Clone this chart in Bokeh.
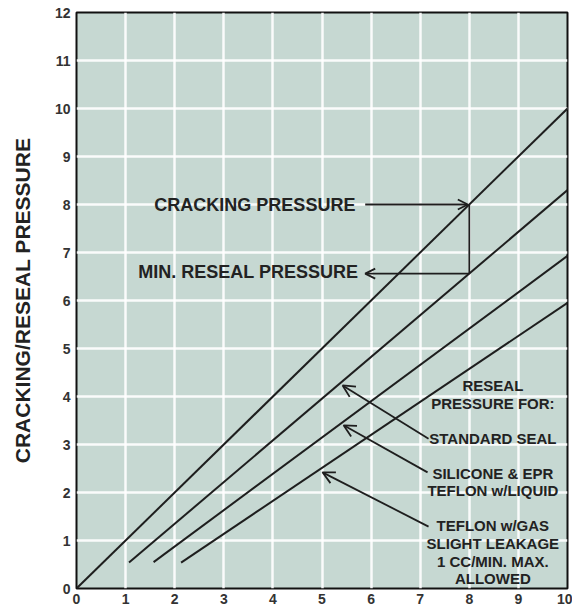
from bokeh.plotting import figure
from bokeh.models import Arrow, OpenHead, Label, Range1d, FixedTicker
from bokeh.embed import file_html
from bokeh.resources import INLINE

# ---- data ----
cracking_x = [0, 10]
cracking_y = [0, 10]
standard_x = [1.07, 10]
standard_y = [0.54, 8.3]
silicone_x = [1.57, 10]
silicone_y = [0.55, 6.93]
teflon_x = [2.13, 10]
teflon_y = [0.54, 5.95]

x_ticks = list(range(0, 11))
y_ticks = list(range(0, 13))

# example point: cracking 8 -> reseal 6.56
example_crack = (8.0, 8.0)
example_reseal = (8.0, 6.56)

FONT = "Liberation Sans"
INK = "#1e1e1e"

p = figure(width=572, height=610, output_backend="svg", toolbar_location=None,
           x_range=Range1d(0, 10), y_range=Range1d(0, 12),
           min_border_left=76, min_border_right=5, min_border_top=12, min_border_bottom=22)
p.background_fill_color = "#c6d8d2"
p.border_fill_color = "white"
p.outline_line_color = "#111111"
p.outline_line_width = 2

for ax in (p.xaxis[0], p.yaxis[0]):
    ax.axis_line_color = None
    ax.major_tick_line_color = None
    ax.minor_tick_line_color = None
    ax.major_tick_out = 0
    ax.major_tick_in = 0
    ax.minor_tick_out = 0
    ax.minor_tick_in = 0
    ax.major_label_text_font = FONT
    ax.major_label_text_font_style = "bold"
    ax.major_label_text_font_size = "14px"
    ax.major_label_text_color = "#333333"
p.xaxis.ticker = FixedTicker(ticks=x_ticks)
p.yaxis.ticker = FixedTicker(ticks=y_ticks)
p.xaxis.major_label_standoff = 5
p.yaxis.major_label_standoff = 6
p.yaxis.axis_label = "CRACKING/RESEAL PRESSURE"
p.yaxis.axis_label_text_font = FONT
p.yaxis.axis_label_text_font_style = "bold"
p.yaxis.axis_label_text_font_size = "21px"
p.yaxis.axis_label_text_color = "#222222"
p.yaxis.axis_label_standoff = 18

p.xgrid.ticker = FixedTicker(ticks=x_ticks)
p.ygrid.ticker = FixedTicker(ticks=y_ticks)
for g in (p.xgrid[0], p.ygrid[0]):
    g.grid_line_color = "white"
    g.grid_line_width = 2.5
    g.grid_line_alpha = 0.9

for xs, ys in ((cracking_x, cracking_y), (standard_x, standard_y),
               (silicone_x, silicone_y), (teflon_x, teflon_y)):
    p.line(xs, ys, line_color=INK, line_width=2)

# cracking / reseal example
p.add_layout(Arrow(end=OpenHead(size=10, line_color=INK, line_width=1.8),
                   x_start=5.88, y_start=example_crack[1],
                   x_end=example_crack[0] - 0.03, y_end=example_crack[1],
                   line_color=INK, line_width=1.8))
p.segment(x0=[example_crack[0]], y0=[example_crack[1]],
          x1=[example_reseal[0]], y1=[example_reseal[1]], line_color=INK, line_width=1.8)
p.add_layout(Arrow(end=OpenHead(size=10, line_color=INK, line_width=1.8),
                   x_start=example_reseal[0], y_start=example_reseal[1],
                   x_end=5.88, y_end=example_reseal[1],
                   line_color=INK, line_width=1.8))

def lab(x, y, t, size, align="center"):
    p.add_layout(Label(x=x, y=y, text=t, text_font=FONT, text_font_style="bold",
                       text_font_size=size, text_color="#222222",
                       text_align=align, text_baseline="middle"))

lab(5.68, 8.0, "CRACKING PRESSURE", "18px", "right")
lab(5.74, 6.6, "MIN. RESEAL PRESSURE", "18px", "right")

right_x = 8.48
right_labels = [(4.23, "RESEAL"), (3.85, "PRESSURE FOR:"), (3.12, "STANDARD SEAL"),
                (2.40, "SILICONE & EPR"), (2.04, "TEFLON w/LIQUID"),
                (1.31, "TEFLON w/GAS"), (0.94, "SLIGHT LEAKAGE"),
                (0.57, "1 CC/MIN. MAX."), (0.21, "ALLOWED")]
for yy, t in right_labels:
    lab(right_x, yy, t, "15px")

pointer_arrows = [((7.17, 3.12), (5.42, 4.23)),
                  ((7.15, 2.42), (5.44, 3.40)),
                  ((7.17, 1.29), (5.01, 2.42))]
for (xs, ys), (xe, ye) in pointer_arrows:
    p.add_layout(Arrow(end=OpenHead(size=12, line_color=INK, line_width=1.8),
                       x_start=xs, y_start=ys, x_end=xe, y_end=ye,
                       line_color=INK, line_width=1.8))

open("out.html", "w").write(file_html(p, INLINE))
